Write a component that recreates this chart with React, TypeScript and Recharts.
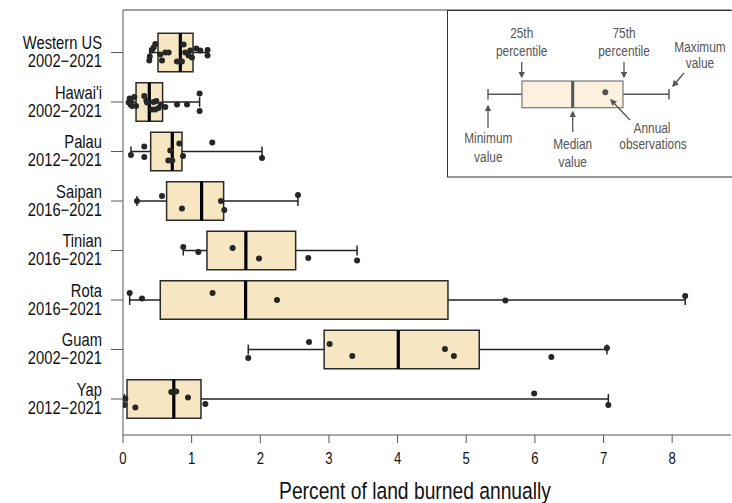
import React from "react";
import {
  ScatterChart,
  Scatter,
  XAxis,
  YAxis,
  ReferenceArea,
  ReferenceLine,
} from "recharts";

// region names and record periods, top to bottom
const regions = ["Western US", "Hawai'i", "Palau", "Saipan", "Tinian", "Rota", "Guam", "Yap"];
const periods = [
  "2002\u22122021",
  "2002\u22122021",
  "2012\u22122021",
  "2016\u22122021",
  "2016\u22122021",
  "2016\u22122021",
  "2002\u22122021",
  "2012\u22122021",
];

// box plot summary (% of land burned annually)
const minValues = [0.39, 0.082, 0.116, 0.204, 0.878, 0.097, 1.825, 0.019];
const q1Values = [0.51, 0.19, 0.403, 0.635, 1.223, 0.543, 2.93, 0.058];
const medianValues = [0.835, 0.383, 0.718, 1.145, 1.79, 1.786, 4.01, 0.74];
const q3Values = [1.02, 0.577, 0.859, 1.466, 2.515, 4.734, 5.19, 1.136];
const maxValues = [1.24, 1.116, 2.025, 2.549, 3.41, 8.19, 7.05, 7.07];

// annual observations per region, with the vertical jitter used in the figure
const observations = [
  [0.47, 0.446, 0.42, 0.39, 0.383, 0.543, 0.568, 0.616, 0.665, 0.786, 0.859, 0.883, 0.907, 0.956, 0.98, 1.068, 1.126, 1.232, 1.232, 1.005],
  [0.097, 0.082, 0.13, 0.165, 0.19, 0.116, 0.31, 0.34, 0.349, 0.446, 0.485, 0.47, 0.519, 0.553, 0.616, 0.787, 0.932, 1.116, 1.116, 0.422],
  [0.116, 0.31, 0.31, 0.689, 0.82, 0.874, 0.66, 0.718, 1.3, 2.025],
  [0.204, 0.568, 0.859, 1.427, 1.476, 2.549],
  [0.878, 1.097, 1.597, 1.981, 2.699, 3.41],
  [0.097, 0.277, 1.305, 2.243, 5.57, 8.19],
  [1.825, 2.71, 3.01, 3.34, 4.69, 4.82, 6.24, 7.05],
  [0.019, 0.034, 0.18, 0.703, 0.776, 0.947, 1.2, 5.99, 7.07],
];
const jitter = [
  [-0.17, -0.1, -0.04, 0.08, 0.16, 0.04, 0.16, 0, 0, 0.18, 0.18, -0.16, 0, 0.06, -0.04, -0.08, -0.04, -0.05, 0.06, 0.1],
  [-0.07, 0.01, 0.08, -0.1, 0.08, 0, -0.12, -0.03, 0.01, 0, -0.02, 0.15, 0.12, 0.05, 0.1, 0.05, 0.05, -0.17, 0.18, 0.15],
  [0.07, -0.1, 0.11, -0.02, -0.16, 0.09, 0.18, 0.18, -0.18, 0.13],
  [0, -0.1, 0.15, 0, 0.18, -0.12],
  [-0.07, 0.03, -0.05, 0.16, 0.15, 0.2],
  [-0.14, -0.03, -0.14, 0, 0.01, -0.08],
  [0.17, -0.15, -0.11, 0.13, -0.01, 0.13, 0.15, -0.03],
  [0.12, -0.01, 0.17, -0.14, -0.15, -0.03, 0.1, -0.11, 0.12],
];

const xTicks = [0, 1, 2, 3, 4, 5, 6, 7, 8];
const xMax = 8.857;
const yMin = -0.859;
const yMax = 7.727;

const BOX_HALF = 0.39;
const CAP_HALF = 0.1;
const FONT = "'Liberation Sans', Arial, sans-serif";
const BOX_FILL = "#F6E6C1";

const points = observations.flatMap((vals, i) =>
  vals.map((v, j) => ({ x: v, y: i + jitter[i][j] }))
);

// Arial Narrow look-alike: squeeze Liberation Sans horizontally
const Narrow = ({ x, y, size, fill = "#111", anchor = "middle", children }: any) => (
  <text
    transform={`translate(${x} ${y}) scale(0.82 1)`}
    textAnchor={anchor}
    fontFamily={FONT}
    fontSize={size}
    fill={fill}
  >
    {children}
  </text>
);

const CategoryTick = (props: any) => {
  const { x, y, payload } = props;
  const i = payload.value;
  return (
    <g>
      <Narrow x={x - 7} y={y - 3.5} size={18} anchor="end">{regions[i]}</Narrow>
      <Narrow x={x - 7} y={y + 14.5} size={18} anchor="end">{periods[i]}</Narrow>
    </g>
  );
};

const ValueTick = (props: any) => {
  const { x, y, payload } = props;
  return <Narrow x={x} y={y + 19} size={16}>{payload.value}</Narrow>;
};

const Dot = (props: any) => <circle cx={props.cx} cy={props.cy} r={3} fill="#262626" />;

const Arrow = ({ x1, y1, x2, y2 }: any) => (
  <line x1={x1} y1={y1} x2={x2} y2={y2} stroke="#555" strokeWidth={1.3} markerEnd="url(#arrowHead)" />
);

function KeyInset() {
  const g = "#555";
  return (
    <svg
      width={732}
      height={503}
      style={{ position: "absolute", left: 0, top: 0, pointerEvents: "none" }}
    >
      <defs>
        <marker id="arrowHead" viewBox="0 0 10 10" refX="8" refY="5" markerWidth="5" markerHeight="5" orient="auto">
          <path d="M0,0 L10,5 L0,10 z" fill="#555" />
        </marker>
      </defs>
      <rect x={447.5} y={10.5} width={300} height={166.5} fill="#fff" stroke="#333" strokeWidth={1} />
      <line x1={488} y1={94.3} x2={522} y2={94.3} stroke={g} strokeWidth={1.4} />
      <line x1={623} y1={94.3} x2={669} y2={94.3} stroke={g} strokeWidth={1.4} />
      <line x1={488} y1={89} x2={488} y2={99.5} stroke={g} strokeWidth={1.4} />
      <line x1={669} y1={89} x2={669} y2={99.5} stroke={g} strokeWidth={1.4} />
      <rect x={522} y={81} width={101} height={26.7} fill="#FBF1DE" stroke="#777" strokeWidth={1.2} />
      <line x1={572.7} y1={81} x2={572.7} y2={107.7} stroke={g} strokeWidth={3} />
      <circle cx={605.3} cy={92.3} r={3} fill={g} />
      <Narrow x={521.7} y={38} size={14.5} fill={g}>25th</Narrow>
      <Narrow x={521.7} y={56} size={14.5} fill={g}>percentile</Narrow>
      <Arrow x1={521.7} y1={62} x2={521.7} y2={77} />
      <Narrow x={624} y={38} size={14.5} fill={g}>75th</Narrow>
      <Narrow x={624} y={56} size={14.5} fill={g}>percentile</Narrow>
      <Arrow x1={624} y1={62} x2={624} y2={77} />
      <Narrow x={700} y={51.5} size={14.5} fill={g}>Maximum</Narrow>
      <Narrow x={700} y={68} size={14.5} fill={g}>value</Narrow>
      <Arrow x1={684} y1={73} x2={673} y2={86} />
      <Narrow x={488.3} y={143.3} size={14.5} fill={g}>Minimum</Narrow>
      <Narrow x={488.3} y={162} size={14.5} fill={g}>value</Narrow>
      <Arrow x1={488} y1={128} x2={488} y2={106} />
      <Narrow x={572.7} y={149.3} size={14.5} fill={g}>Median</Narrow>
      <Narrow x={572.7} y={166.5} size={14.5} fill={g}>value</Narrow>
      <Arrow x1={572.7} y1={132} x2={572.7} y2={112} />
      <Narrow x={652} y={132.7} size={14.5} fill={g}>Annual</Narrow>
      <Narrow x={653} y={149.3} size={14.5} fill={g}>observations</Narrow>
      <Arrow x1={630} y1={120} x2={611} y2={100} />
      <Narrow x={415} y={499} size={23.5}>Percent of land burned annually</Narrow>
    </svg>
  );
}

export default function App() {
  return (
    <div style={{ position: "absolute", left: 0, top: 0, width: 732, height: 503, background: "#fff" }}>
      <ScatterChart width={732} height={503} margin={{ top: 10, right: 1, bottom: 0, left: 0 }}>
        <XAxis
          type="number"
          dataKey="x"
          domain={[0, xMax]}
          ticks={xTicks}
          allowDataOverflow
          height={68}
          tickSize={8}
          stroke="#555"
          tick={<ValueTick />}
        />
        <YAxis
          type="number"
          dataKey="y"
          domain={[yMin, yMax]}
          reversed
          allowDataOverflow
          ticks={[0, 1, 2, 3, 4, 5, 6, 7]}
          width={123}
          tickSize={12}
          stroke="#555"
          tick={<CategoryTick />}
        />
        <ReferenceLine y={yMin} stroke="#444" ifOverflow="extendDomain" />
        {regions.map((_, i) => (
          <ReferenceLine
            key={`wl-${i}`}
            segment={[{ x: minValues[i], y: i }, { x: q1Values[i], y: i }]}
            stroke="#222"
            strokeWidth={1.5}
          />
        ))}
        {regions.map((_, i) => (
          <ReferenceLine
            key={`wr-${i}`}
            segment={[{ x: q3Values[i], y: i }, { x: maxValues[i], y: i }]}
            stroke="#222"
            strokeWidth={1.5}
          />
        ))}
        {regions.map((_, i) => (
          <ReferenceLine
            key={`cl-${i}`}
            segment={[{ x: minValues[i], y: i - CAP_HALF }, { x: minValues[i], y: i + CAP_HALF }]}
            stroke="#222"
            strokeWidth={1.5}
          />
        ))}
        {regions.map((_, i) => (
          <ReferenceLine
            key={`cr-${i}`}
            segment={[{ x: maxValues[i], y: i - CAP_HALF }, { x: maxValues[i], y: i + CAP_HALF }]}
            stroke="#222"
            strokeWidth={1.5}
          />
        ))}
        {regions.map((_, i) => (
          <ReferenceArea
            key={`box-${i}`}
            x1={q1Values[i]}
            x2={q3Values[i]}
            y1={i - BOX_HALF}
            y2={i + BOX_HALF}
            fill={BOX_FILL}
            fillOpacity={1}
            stroke="#2a2a2a"
            strokeWidth={1.5}
          />
        ))}
        {regions.map((_, i) => (
          <ReferenceLine
            key={`med-${i}`}
            segment={[{ x: medianValues[i], y: i - BOX_HALF }, { x: medianValues[i], y: i + BOX_HALF }]}
            stroke="#000"
            strokeWidth={3.2}
          />
        ))}
        <Scatter data={points} isAnimationActive={false} shape={<Dot />} />
      </ScatterChart>
      <KeyInset />
    </div>
  );
}
